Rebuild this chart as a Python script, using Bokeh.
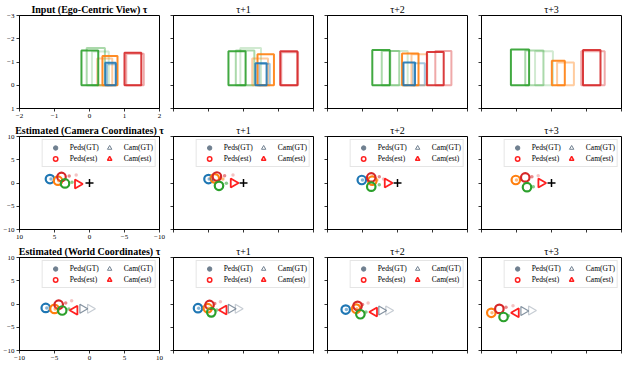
import math
from bokeh.plotting import figure
from bokeh.layouts import gridplot
from bokeh.models import Range1d, FixedTicker, Legend, LegendItem, ColumnDataSource
from bokeh.embed import file_html
from bokeh.resources import INLINE

SERIF = "Liberation Serif"
NAN = float("nan")

# ---------------- data ----------------
titles_ego = ["Input (Ego-Centric View) τ", "τ+1", "τ+2", "τ+3"]
titles_cam = ["Estimated (Camera Coordinates) τ", "τ+1", "τ+2", "τ+3"]
titles_world = ["Estimated (World Coordinates) τ", "τ+1", "τ+2", "τ+3"]
legend_labels = ["Peds(GT)", "Peds(est)", "Cam(GT)", "Cam(est)"]

ped_colors = {"b": "#1f77b4", "o": "#ff7f0e", "g": "#2ca02c", "r": "#d62728"}
gt_gray = "#708090"
cam_est_color = "#ff2020"

ego_xticks = [-2, -1, 0, 1, 2]
ego_xlabels = ["−2", "−1", "0", "1", "2"]
ego_yticks = [-3, -2, -1, 0, 1]
ego_ylabels = ["−3", "−2", "−1", "0", "1"]
bev_ticks = [-10, -5, 0, 5, 10]
bev_labels = ["−10", "−5", "0", "5", "10"]

# Row 1: bounding boxes (bottom at 0), age 0 = current, 1,2 = older
box_frame = [0, 0, 0, 0, 0, 0, 0, 0, 0,
             1, 1, 1, 1, 1, 1, 1, 1, 1,
             2, 2, 2, 2, 2, 2, 2, 2, 2,
             3, 3, 3, 3, 3, 3, 3]
box_ped = ["g", "g", "g", "o", "o", "b", "b", "r", "r",
           "g", "g", "g", "o", "o", "b", "b", "r", "r",
           "g", "g", "g", "o", "o", "b", "b", "r", "r",
           "g", "g", "g", "o", "o", "r", "r"]
box_age = [0, 1, 2, 0, 1, 0, 1, 0, 1,
           0, 1, 2, 0, 1, 0, 1, 0, 1,
           0, 1, 2, 0, 1, 0, 1, 0, 1,
           0, 1, 2, 0, 1, 0, 1]
box_left = [-0.23, -0.08, 0.07, 0.37, 0.22, 0.45, 0.50, 1.00, 1.05,
            -0.43, -0.22, -0.09, 0.40, 0.25, 0.34, 0.45, 1.05, 1.08,
            -0.72, -0.45, -0.20, 0.13, 0.40, 0.17, 0.45, 0.84, 1.08,
            -1.16, -0.75, -0.47, 0.01, 0.16, 0.90, 0.85]
box_right = [0.25, 0.44, 0.55, 0.80, 0.65, 0.75, 0.78, 1.48, 1.55,
             0.06, 0.31, 0.50, 0.87, 0.70, 0.66, 0.75, 1.54, 1.56,
             -0.22, 0.05, 0.29, 0.60, 0.85, 0.50, 0.78, 1.32, 1.54,
             -0.64, -0.23, 0.04, 0.38, 0.64, 1.40, 1.52]
box_top = [-1.50, -1.60, -1.45, -1.26, -1.15, -0.97, -0.90, -1.40, -1.35,
           -1.46, -1.50, -1.60, -1.33, -1.15, -0.95, -0.92, -1.46, -1.42,
           -1.52, -1.47, -1.47, -1.37, -1.33, -0.98, -0.95, -1.43, -1.47,
           -1.54, -1.50, -1.46, -1.05, -0.98, -1.52, -1.46]

# Row 2: camera coordinates
cam_est_frame = [0, 0, 0, 0, 1, 1, 1, 1, 2, 2, 2, 2, 3, 3, 3]
cam_est_ped = ["b", "o", "r", "g", "b", "o", "r", "g", "b", "o", "r", "g", "o", "r", "g"]
cam_est_x = [5.65, 4.5, 4.0, 3.5, 5.0, 4.1, 3.8, 3.5, 5.1, 3.6, 3.75, 3.75, 5.1, 3.75, 3.5]
cam_est_y = [0.85, 0.5, 1.3, -0.1, 0.85, 1.0, 1.4, -0.6, 0.65, 0.5, 1.2, -0.8, 0.65, 1.2, -0.9]

cam_gt_frame = [0, 0, 0, 0, 0, 1, 1, 1, 1, 1, 2, 2, 2, 2, 2, 3, 3, 3, 3]
cam_gt_ped = ["b", "o", "r", "r", "g", "b", "o", "r", "r", "g",
              "b", "o", "r", "r", "g", "o", "r", "r", "g"]
cam_gt_age = [0, 0, 0, 1, 0, 0, 0, 0, 1, 0, 0, 0, 0, 1, 0, 0, 0, 1, 0]
cam_gt_x = [5.5, 4.4, 2.9, 1.9, 2.5, 4.9, 2.95, 2.7, 1.5, 2.45,
            5.0, 2.95, 2.6, 2.0, 2.6, 5.0, 2.8, 1.9, 2.6]
cam_gt_y = [0.85, 0.5, 1.5, 1.7, 0.15, 0.85, 0.85, 1.55, 1.7, -0.05,
            0.65, 0.65, 1.35, 0.85, -0.35, 0.65, 1.35, 1.55, -0.8]

cam_cam_frame = [0, 1, 2, 3]
cam_cam_x = [1.7, 1.45, 1.45, 1.5]
cam_cam_y = [-0.2, 0.0, 0.0, 0.0]
cam_origin_x = [0.0]
cam_origin_y = [0.0]

# Row 3: world coordinates
w_est_frame = [0, 0, 0, 0, 1, 1, 1, 1, 2, 2, 2, 2, 3, 3, 3]
w_est_ped = ["b", "o", "r", "g", "b", "o", "r", "g", "b", "o", "r", "g", "o", "r", "g"]
w_est_x = [-6.25, -5.0, -4.4, -3.9, -6.5, -5.1, -4.85, -4.6, -7.4, -5.9, -5.7, -5.3, -8.6, -7.45, -6.85]
w_est_y = [-0.85, -1.05, -0.15, -1.4, -0.9, -0.9, -0.2, -1.8, -1.2, -1.0, -0.4, -2.2, -1.9, -1.05, -2.8]

w_gt_frame = [0, 0, 0, 0, 0, 1, 1, 1, 1, 1, 2, 2, 2, 2, 2, 3, 3, 3, 3]
w_gt_ped = ["b", "o", "r", "r", "g", "b", "o", "r", "r", "g",
            "b", "o", "r", "r", "g", "o", "r", "r", "g"]
w_gt_age = [0, 0, 0, 1, 0, 0, 0, 0, 1, 0, 0, 0, 0, 1, 0, 0, 0, 1, 0]
w_gt_x = [-6.1, -4.9, -3.4, -2.55, -2.95, -6.4, -5.0, -4.1, -3.3, -3.8,
          -7.3, -5.8, -5.0, -4.2, -4.5, -8.5, -6.5, -5.5, -6.15]
w_gt_y = [-0.85, -1.05, 0.2, 0.7, -1.05, -0.9, -0.9, 0.1, 0.5, -1.3,
          -1.2, -1.0, -0.1, 0.2, -1.7, -1.9, -0.7, -0.35, -2.55]

w_cam_est_frame = [0, 1, 2, 3]
w_cam_est_x = [-2.1, -2.8, -3.3, -5.05]
w_cam_est_y = [-1.35, -1.3, -1.7, -1.9]

w_cam_gt_frame = [0, 0, 1, 1, 2, 2, 3, 3]
w_cam_gt_age = [0, 1, 0, 1, 0, 1, 0, 1]
w_cam_gt_x = [-1.0, 0.1, -1.8, -0.8, -2.3, -1.3, -4.0, -2.9]
w_cam_gt_y = [-1.0, -1.0, -1.0, -1.0, -1.4, -1.4, -1.5, -1.4]

# ---------------- styling helpers ----------------
FW, FH = 140, 93
box_alpha = {0: 0.9, 1: 0.4, 2: 0.22}
gt_alpha = {0: 0.55, 1: 0.28}
camgt_alpha = {0: 0.85, 1: 0.4}
LEFT = math.pi / 2
RIGHT = -math.pi / 2


def sel(frame_list, f, *cols):
    idx = [i for i, v in enumerate(frame_list) if v == f]
    return [[c[i] for i in idx] for c in cols]


def make_fig(col, title, xr, yr, xt, xl, yt, yl):
    p = figure(frame_width=FW, frame_height=FH,
               x_range=Range1d(*xr), y_range=Range1d(*yr),
               output_backend="svg", toolbar_location=None,
               min_border_left=16 if col == 0 else 7, min_border_right=7,
               min_border_top=13, min_border_bottom=13)
    p.title.text = title
    p.title.text_font = SERIF
    p.title.text_font_size = "10px"
    p.title.text_font_style = "bold" if col == 0 else "normal"
    p.title.text_color = "black"
    p.title.align = "center"
    p.title.standoff = 2
    p.xgrid.visible = False
    p.ygrid.visible = False
    p.outline_line_color = "black"
    p.outline_line_width = 1
    p.outline_line_alpha = 1
    for ax, ticks, labels in ((p.xaxis[0], xt, xl), (p.yaxis[0], yt, yl)):
        ax.ticker = FixedTicker(ticks=ticks, minor_ticks=[])
        ax.major_label_overrides = {t: (l if col == 0 else "") for t, l in zip(ticks, labels)}
        ax.major_tick_out = 3
        ax.major_tick_in = 0
        ax.minor_tick_out = 0
        ax.minor_tick_in = 0
        ax.major_label_text_font = SERIF
        ax.major_label_text_font_size = "7px"
        ax.major_label_text_color = "black"
        ax.major_label_standoff = 2
        ax.axis_line_color = "black"
        ax.major_tick_line_color = "black"
        ax.major_tick_line_width = 0.8
    return p


def add_legend(p):
    # legend-only renderers: a single NaN row draws nothing in the plot
    r1 = p.scatter(x=[NAN], y=[NAN], marker="circle", size=4, color=gt_gray)
    r2 = p.scatter(x=[NAN], y=[NAN], marker="circle", size=7, fill_color=None,
                   line_color=cam_est_color, line_width=1.5)
    r3 = p.scatter(x=[NAN], y=[NAN], marker="triangle", angle=LEFT, size=7, fill_color=None,
                   line_color=gt_gray, line_width=1)
    r4 = p.scatter(x=[NAN], y=[NAN], marker="triangle", angle=LEFT, size=7, fill_color=None,
                   line_color=cam_est_color, line_width=1.5)
    leg = Legend(items=[LegendItem(label=lab, renderers=[r])
                        for lab, r in zip(legend_labels, [r1, r2, r3, r4])],
                 ncols=2, location="top_right", margin=3, padding=2, spacing=0,
                 glyph_width=21, glyph_height=11, label_height=11, label_standoff=4,
                 label_text_font=SERIF, label_text_font_size="7.5px",
                 label_text_color="black",
                 border_line_color="#cccccc", border_line_width=1,
                 background_fill_alpha=0.85)
    p.add_layout(leg)


figs = []

# Row 1
row = []
for f in range(4):
    p = make_fig(f, titles_ego[f], (-2, 2), (1, -3), ego_xticks, ego_xlabels, ego_yticks, ego_ylabels)
    ped, age, l, r, t = sel(box_frame, f, box_ped, box_age, box_left, box_right, box_top)
    order = sorted(range(len(ped)), key=lambda i: -age[i])
    src = ColumnDataSource(dict(
        left=[l[i] for i in order], right=[r[i] for i in order],
        top=[t[i] for i in order], bottom=[0.0] * len(order),
        color=[ped_colors[ped[i]] for i in order],
        alpha=[box_alpha[age[i]] for i in order]))
    p.quad(left="left", right="right", top="top", bottom="bottom", source=src,
           fill_color=None, line_color="color", line_alpha="alpha", line_width=2)
    row.append(p)
figs.append(row)

# Row 2
row = []
for f in range(4):
    p = make_fig(f, titles_cam[f], (10, -10), (-10, 10), bev_ticks, bev_labels, bev_ticks, bev_labels)
    gped, gage, gx, gy = sel(cam_gt_frame, f, cam_gt_ped, cam_gt_age, cam_gt_x, cam_gt_y)
    ped, ex, ey = sel(cam_est_frame, f, cam_est_ped, cam_est_x, cam_est_y)
    p.scatter(x=ex, y=ey, marker="circle", size=8.5, fill_color=None,
              line_color=[ped_colors[c] for c in ped], line_width=2.2)
    p.scatter(x=gx, y=gy, marker="circle", size=3.5, line_color=None,
              fill_color=[ped_colors[c] for c in gped],
              fill_alpha=[gt_alpha[a] for a in gage])
    cx, cy = sel(cam_cam_frame, f, cam_cam_x, cam_cam_y)
    p.scatter(x=cx, y=cy, marker="triangle", angle=RIGHT, size=9, fill_color=None,
              line_color=cam_est_color, line_width=1.8)
    p.scatter(x=cam_origin_x, y=cam_origin_y, marker="cross", size=8,
              line_color="black", line_width=1.5)
    add_legend(p)
    row.append(p)
figs.append(row)

# Row 3
row = []
for f in range(4):
    p = make_fig(f, titles_world[f], (-10, 10), (-10, 10), bev_ticks, bev_labels, bev_ticks, bev_labels)
    gped, gage, gx, gy = sel(w_gt_frame, f, w_gt_ped, w_gt_age, w_gt_x, w_gt_y)
    ped, ex, ey = sel(w_est_frame, f, w_est_ped, w_est_x, w_est_y)
    p.scatter(x=ex, y=ey, marker="circle", size=8.5, fill_color=None,
              line_color=[ped_colors[c] for c in ped], line_width=2.2)
    p.scatter(x=gx, y=gy, marker="circle", size=3.5, line_color=None,
              fill_color=[ped_colors[c] for c in gped],
              fill_alpha=[gt_alpha[a] for a in gage])
    kage, kx, ky = sel(w_cam_gt_frame, f, w_cam_gt_age, w_cam_gt_x, w_cam_gt_y)
    p.scatter(x=kx, y=ky, marker="triangle", angle=RIGHT, size=9, fill_color=None,
              line_color=gt_gray, line_width=1.2,
              line_alpha=[camgt_alpha[a] for a in kage])
    cx, cy = sel(w_cam_est_frame, f, w_cam_est_x, w_cam_est_y)
    p.scatter(x=cx, y=cy, marker="triangle", angle=LEFT, size=9, fill_color=None,
              line_color=cam_est_color, line_width=1.8)
    add_legend(p)
    row.append(p)
figs.append(row)

grid = gridplot(figs, toolbar_location=None)
open("out.html", "w").write(file_html(grid, INLINE))
